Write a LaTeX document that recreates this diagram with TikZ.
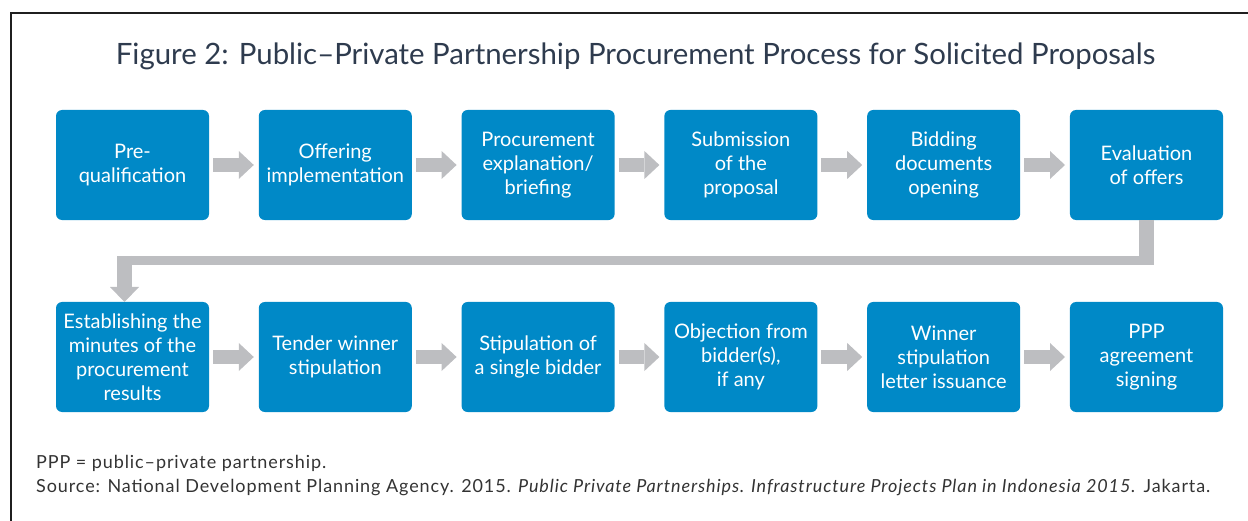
\documentclass[tikz,border=0pt]{standalone}
\usepackage{fontspec}
\setmainfont{Lato}
\newfontfamily\notefont[LetterSpace=5]{Lato}
\usepackage{tikz}
\usetikzlibrary{positioning,arrows.meta}
\usetikzlibrary{matrix, calc}
\definecolor{stepblue}{RGB}{0,137,199}
\definecolor{linkgray}{RGB}{189,190,193}
\definecolor{titleink}{RGB}{46,59,78}
\definecolor{noteink}{RGB}{51,51,51}
\tikzset{
  stage/.style={fill=stepblue, rounded corners=6pt, minimum width=153pt, minimum height=110pt,
    inner sep=0pt, outer sep=0pt, align=center, text=white, font=\fontsize{20}{24}\selectfont},
  link/.style={draw=linkgray, line width=14pt, -{Triangle[width=28pt,length=15pt,line width=0pt]},
    shorten <=4pt, shorten >=5pt},
  note/.style={anchor=base west, inner sep=0pt, text=noteink, font=\notefont\fontsize{18}{24}\selectfont}
}
\newcommand*{\pnode}[2]{\node[stage] (#1) {#2};}

\begin{document}
\begin{tikzpicture}[x=1pt,y=-1pt,ampersand replacement=\&]
\useasboundingbox (0,0) rectangle (1248,521);
% Frame and title
\draw[line width=2pt, black!88] (11,521) -- (11,13) -- (1248,13);
\node[anchor=base, text=titleink, font=\fontsize{29.4}{34}\selectfont, inner sep=0pt] (title) at (635.5,65)
  {Figure 2: Public–Private Partnership Procurement Process for Solicited Proposals};
% The twelve steps, two rows of six
\matrix[column sep=49.8pt, row sep=82pt, anchor=north west, inner sep=0pt, outer sep=0pt] (steps) at (56,110) {
% First row
\pnode{pre}{Pre-\\qualification} \& \pnode{offer}{Offering\\implementation} \& \pnode{brief}{Procurement\\explanation/\\briefing} \&
\pnode{submit}{Submission\\of the\\proposal} \& \pnode{opening}{Bidding\\documents\\opening} \& \pnode{evaluate}{Evaluation\\of offers}\\
% Second row
\pnode{minutes}{Establishing the\\minutes of the\\procurement\\results} \& \pnode{winner}{Tender winner\\stipulation} \& \pnode{single}{Stipulation of\\a single bidder} \&
\pnode{objection}{Objection from\\bidder(s),\\if any} \& \pnode{letter}{Winner\\stipulation\\letter issuance} \& \pnode{signing}{PPP\\agreement\\signing}\\
};
% Arrows along each row
\draw[link] (pre) -- (offer);
\draw[link] (offer) -- (brief);
\draw[link] (brief) -- (submit);
\draw[link] (submit) -- (opening);
\draw[link] (opening) -- (evaluate);
\draw[link] (minutes) -- (winner);
\draw[link] (winner) -- (single);
\draw[link] (single) -- (objection);
\draw[link] (objection) -- (letter);
\draw[link] (letter) -- (signing);
% Return from the end of the first row to the start of the second
\coordinate (turnR) at ($(evaluate.south)+(0,40.5)$);
\coordinate (turnL) at ($(minutes.north)+(-8,-41.5)$);
\coordinate (drop) at ($(minutes.north)+(-8,0)$);
\draw[draw=linkgray, line width=9pt] ($(turnR)+(7.25,0)$) -- ($(turnL)+(-7.25,0)$);
\draw[draw=linkgray, line width=14.5pt] (evaluate.south) -- ($(turnR)+(0,4.5)$);
\draw[link, line width=14.5pt, -{Triangle[width=29pt,length=15pt,line width=0pt]}, shorten <=0pt, shorten >=0pt]
  ($(turnL)+(0,-4.5)$) -- (drop);
% Notes
\node[note] (abbr) at (36,468) {PPP = public–private partnership.};
\node[note] (source) at (36,492)
  {Source: National Development Planning Agency. 2015. \textit{Public Private Partnerships. Infrastructure Projects Plan in Indonesia 2015.} Jakarta.};
\end{tikzpicture}
\end{document}
